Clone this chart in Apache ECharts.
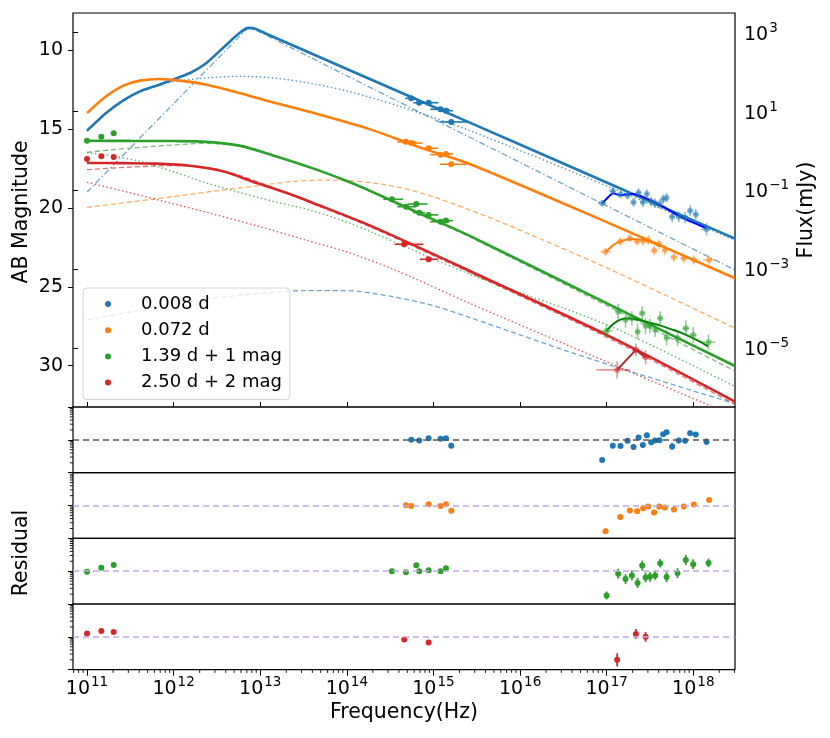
<!DOCTYPE html>
<html>
<head>
<meta charset="utf-8">
<script src="https://cdn.jsdelivr.net/npm/echarts@6/dist/echarts.min.js"></script>
<style>
  html, body { margin: 0; background: #fff; }
  #main { width: 830px; height: 738px; }
</style>
</head>
<body>
<div id="main"></div>
<script>
// axis ranges (log10 frequency, AB mag)
const X_MIN = 10.838, X_MAX = 18.483
const MAG_TOP = 7.656, MAG_BOTTOM = 32.62
const xDecades = [11, 12, 13, 14, 15, 16, 17, 18]
const magTicks = [10, 15, 20, 25, 30]
const fluxDecades = [-5, -3, -1, 1, 3]
const legendNames = ['0.008 d', '0.072 d', '1.39 d + 1 mag', '2.50 d + 2 mag']

// model curves [log10 nu, mag]
const blueTotal = [[11.0,15.11],[11.22,13.99],[11.42,13.19],[11.61,12.62],[11.8,12.26],[11.99,11.88],[12.19,11.46],[12.38,10.82],[12.57,9.87],[12.76,8.92],[12.87,8.6],[12.94,8.66],[13.05,8.92],[14.0,11.2],[15.42,14.6],[17.04,18.49],[18.483,21.95]]
const blueDotted = [[11.0,15.15],[11.22,14.02],[11.42,13.22],[11.61,12.66],[11.8,12.3],[12.0,12.0],[12.38,11.77],[12.76,11.67],[13.15,11.77],[13.6,12.13],[14.0,12.6],[14.6,13.55],[15.42,15.11],[17.04,18.7],[18.483,22.05]]
const blueDashDot = [[11.0,19.0],[11.5,16.2],[12.0,13.4],[12.5,10.6],[12.75,9.2],[12.86,8.65],[12.95,8.75],[14.0,11.63],[15.42,15.53],[16.69,19.02],[18.483,23.94]]
const blueDashed = [[11.0,27.1],[11.5,26.6],[12.0,26.1],[12.5,25.7],[13.0,25.42],[13.5,25.25],[14.0,25.25],[14.5,25.6],[15.0,26.2],[15.42,26.95],[16.0,28.05],[16.5,29.0],[17.0,29.9],[17.5,30.75],[18.0,31.6],[18.483,32.4]]
const orangeTotal = [[11.0,13.99],[11.22,12.93],[11.42,12.26],[11.61,11.94],[11.84,11.84],[12.07,11.94],[12.38,12.2],[12.76,12.72],[13.15,13.32],[13.61,13.98],[14.27,15.03],[14.9,16.28],[15.42,17.22],[17.04,21.0],[18.483,24.46]]
const orangeDashed = [[11.0,19.97],[11.5,19.63],[12.0,19.28],[12.5,18.92],[13.0,18.58],[13.4,18.32],[13.8,18.24],[14.2,18.36],[14.6,18.7],[15.0,19.3],[15.42,20.14],[15.8,20.95],[17.04,23.9],[18.483,27.63]]
const greenTotal = [[11.0,15.75],[11.5,15.76],[12.0,15.77],[12.38,15.82],[12.76,16.06],[13.15,16.68],[13.61,17.5],[14.0,18.3],[14.27,18.93],[14.9,20.5],[15.42,21.78],[17.04,26.15],[18.483,30.02]]
const greenDashed = [[11.0,16.48],[11.5,16.22],[12.0,16.02],[12.38,15.92],[12.76,16.1],[13.15,16.7],[13.61,17.52],[14.0,18.33],[14.27,18.97],[14.9,20.56],[15.42,21.85],[17.04,26.3],[18.483,30.34]]
const greenDotted = [[11.0,16.5],[11.3,16.72],[11.61,17.05],[12.0,17.72],[12.38,18.43],[12.76,19.02],[13.15,19.59],[13.61,20.2],[14.0,20.9],[14.27,21.5],[15.42,24.2],[17.04,27.5],[18.483,31.33]]
const redTotal = [[11.0,17.16],[11.4,17.17],[11.8,17.2],[12.19,17.33],[12.57,17.69],[12.96,18.43],[13.3,19.05],[13.61,19.69],[14.27,21.13],[15.42,24.0],[17.04,28.16],[18.483,32.28]]
const redDashed = [[11.0,17.58],[11.5,17.42],[12.0,17.32],[12.4,17.45],[12.76,17.95],[13.15,18.72],[13.61,19.75],[14.27,21.2],[15.42,24.1],[17.04,28.3],[18.483,32.45]]
const redDotted = [[11.0,18.38],[11.5,19.05],[12.0,19.75],[12.38,20.28],[13.0,21.2],[13.5,22.0],[14.0,22.8],[14.54,23.9],[15.42,26.05],[17.04,29.85],[18.483,33.2]]

// X-ray band fits
const blueXModel = [[16.953,19.71],[17.076,19.08],[17.153,19.19],[17.307,19.12],[17.461,19.4],[17.653,19.93],[17.845,20.56],[18.154,21.3]]
const orangeXModel = [[16.99,22.8],[17.08,22.35],[17.153,22.14],[17.269,21.99],[17.4,22.02],[17.5,22.15],[17.615,22.44]]
const greenXModel = [[17.0,27.8],[17.08,27.35],[17.153,27.1],[17.25,27.02],[17.384,27.12],[17.5,27.28],[17.615,27.45],[17.75,27.7],[17.884,27.97],[18.05,28.4],[18.173,28.78]]
const redXModel = [[17.122,30.27],[17.338,29.0],[17.45,29.47]]

// observations [log10 nu, mag, dx-, dx+, dmag]
const blueOpt = [[14.744,13.06,0.07,0.05,0.03],[14.836,13.34,0.07,0.07,0.03],[14.945,13.34,0.08,0.11,0.03],[15.083,13.76,0.12,0.1,0.03],[15.145,13.85,0.09,0.08,0.03],[15.206,14.56,0.13,0.18,0.03]]
const orangeOpt = [[14.683,15.82,0.1,0.12,0.03],[14.744,15.9,0.1,0.13,0.03],[14.945,16.23,0.08,0.11,0.03],[15.083,16.63,0.12,0.1,0.03],[15.145,16.59,0.09,0.08,0.03],[15.206,17.24,0.13,0.18,0.03]]
const greenOpt = [[14.521,19.46,0.1,0.13,0.03],[14.683,19.93,0.1,0.12,0.03],[14.802,19.76,0.1,0.13,0.03],[14.836,20.31,0.07,0.07,0.03],[14.945,20.45,0.08,0.11,0.03],[15.083,20.88,0.12,0.1,0.03],[15.145,20.81,0.09,0.08,0.03]]
const redOpt = [[14.663,22.31,0.11,0.22,0.03],[14.945,23.26,0.1,0.11,0.03]]
const greenRadio = [[11.0,15.75],[11.165,15.49],[11.308,15.28]]
const redRadio = [[11.0,16.9],[11.165,16.74],[11.308,16.78]]

const blueX = [[16.949,19.71,0.05,0.05,0.2],[17.072,18.95,0.03,0.03,0.25],[17.161,19.15,0.03,0.03,0.25],[17.242,19.22,0.03,0.03,0.25],[17.311,19.65,0.03,0.03,0.3],[17.369,19.04,0.03,0.03,0.3],[17.419,19.65,0.03,0.03,0.3],[17.465,19.12,0.02,0.02,0.3],[17.515,19.6,0.02,0.02,0.3],[17.561,19.71,0.02,0.02,0.3],[17.612,19.76,0.02,0.02,0.3],[17.653,19.46,0.02,0.02,0.3],[17.693,19.36,0.02,0.02,0.3],[17.757,20.56,0.03,0.03,0.35],[17.834,20.56,0.03,0.03,0.35],[17.907,20.62,0.03,0.03,0.35],[17.965,20.18,0.03,0.03,0.35],[18.03,20.42,0.03,0.03,0.35],[18.154,21.36,0.06,0.06,0.4]]
const orangeX = [[16.988,22.78,0.06,0.06,0.25],[17.157,22.14,0.04,0.04,0.25],[17.269,21.93,0.03,0.03,0.25],[17.353,22.14,0.03,0.03,0.25],[17.422,22.1,0.03,0.03,0.3],[17.48,22.05,0.03,0.03,0.3],[17.549,22.71,0.03,0.03,0.3],[17.607,22.3,0.03,0.03,0.3],[17.673,22.67,0.03,0.03,0.3],[17.777,23.13,0.04,0.04,0.3],[17.892,23.2,0.04,0.04,0.3],[18.008,23.3,0.04,0.04,0.3],[18.184,23.3,0.07,0.07,0.3]]
const greenX = [[17.0,27.8,0.07,0.07,0.4],[17.134,26.58,0.03,0.03,0.5],[17.219,27.1,0.03,0.03,0.5],[17.292,27.0,0.03,0.03,0.45],[17.358,27.85,0.03,0.03,0.5],[17.411,26.68,0.03,0.03,0.45],[17.45,27.49,0.02,0.02,0.5],[17.5,27.49,0.02,0.02,0.45],[17.561,27.74,0.02,0.02,0.45],[17.619,27.0,0.03,0.03,0.45],[17.693,28.23,0.03,0.03,0.5],[17.819,28.27,0.04,0.04,0.5],[17.915,27.63,0.04,0.04,0.5],[18.0,28.06,0.04,0.04,0.5],[18.177,28.52,0.08,0.08,0.5]]
const redX = [[17.122,30.27,0.24,0.15,0.55],[17.338,29.0,0.04,0.04,0.4],[17.45,29.47,0.04,0.04,0.45]]

// residuals [log10 nu, residual, err]
const resBlue = [[14.744,0,0],[14.836,-0.02,0],[14.945,0.05,0],[15.083,0.03,0],[15.145,0.05,0],[15.206,-0.18,0],[16.949,-0.61,0.06],[17.072,-0.18,0.06],[17.161,-0.19,0.06],[17.242,-0.03,0.06],[17.311,-0.22,0.07],[17.369,0.07,0.07],[17.419,-0.16,0.07],[17.465,0.14,0.07],[17.515,-0.07,0.07],[17.561,-0.02,0.07],[17.612,-0.01,0.07],[17.653,0.17,0.07],[17.693,0.23,0.07],[17.757,-0.2,0.1],[17.834,-0.02,0.08],[17.907,-0.03,0.08],[17.965,0.2,0.08],[18.03,0.16,0.08],[18.154,-0.06,0.1]]
const resOrange = [[14.683,0.01,0],[14.744,-0.01,0],[14.945,0.04,0],[15.083,-0.01,0],[15.145,0.04,0],[15.206,-0.16,0],[16.988,-0.78,0.08],[17.157,-0.35,0.08],[17.269,-0.15,0.08],[17.353,-0.17,0.08],[17.422,-0.08,0.08],[17.48,-0.03,0.08],[17.549,-0.21,0.08],[17.607,-0.03,0.08],[17.673,-0.06,0.08],[17.777,-0.12,0.08],[17.892,-0.03,0.08],[18.008,0.03,0.08],[18.184,0.17,0.08]]
const resGreen = [[11.0,-0.02,0],[11.165,0.1,0],[11.308,0.19,0],[14.521,0,0],[14.683,-0.03,0],[14.802,0.18,0],[14.836,0,0],[14.945,0.03,0],[15.083,0,0],[15.145,0.09,0],[17.0,-0.74,0.12],[17.134,-0.08,0.15],[17.219,-0.24,0.15],[17.292,-0.13,0.15],[17.358,-0.36,0.15],[17.411,0.17,0.15],[17.45,-0.19,0.15],[17.5,-0.17,0.15],[17.561,-0.13,0.13],[17.619,0.24,0.13],[17.693,-0.18,0.15],[17.819,-0.06,0.15],[17.915,0.34,0.15],[18.0,0.21,0.15],[18.177,0.25,0.13]]
const resRed = [[11.0,0.1,0],[11.165,0.18,0],[11.308,0.15,0],[14.663,-0.08,0],[14.945,-0.17,0],[17.122,-0.7,0.2],[17.338,0.09,0.15],[17.45,0,0.15]]

const FONT = 'DejaVu Sans'
const C = ['#1f77b4', '#ff7f0e', '#2ca02c', '#d62728']
const DASHED = [5, 3], DOTTED = [1.5, 2.5], DASHDOT = [6, 2.5, 1.5, 2.5]

const chart = echarts.init(document.getElementById('main'))

const resTops = [407, 472.7, 538.3, 604]
const RES_H = 65.7

const supLabel = v => {
    const e = v < 0 ? '\u2212' + (-v) : String(v)
    return '{b|10}{s|' + e + '}'
}
const supRich = {
    b: { fontSize: 19, fontFamily: FONT, color: '#000', verticalAlign: 'bottom', lineHeight: 23 },
    s: { fontSize: 13.5, fontFamily: FONT, color: '#000', verticalAlign: 'bottom', lineHeight: 23, padding: [0, 0, 9, 1] }
}

const line = (data, color, width, type, opacity, smooth) => ({
    type: 'line', xAxisIndex: 0, yAxisIndex: 0, data,
    symbol: 'none', smooth: smooth === undefined ? 0.3 : smooth, silent: true,
    lineStyle: { color, width, type, opacity }, z: 2
})

const errRender = (color, opacity, width) => (params, api) => {
    const x = api.value(0), y = api.value(1)
    const dxl = api.value(2), dxh = api.value(3), dy = api.value(4)
    const kids = []
    const style = { stroke: color, lineWidth: width, opacity }
    if (dxl > 0 || dxh > 0) {
        const a = api.coord([x - dxl, y]), b = api.coord([x + dxh, y])
        kids.push({ type: 'line', shape: { x1: a[0], y1: a[1], x2: b[0], y2: b[1] }, style })
    }
    if (dy > 0) {
        const a = api.coord([x, y - dy]), b = api.coord([x, y + dy])
        kids.push({ type: 'line', shape: { x1: a[0], y1: a[1], x2: b[0], y2: b[1] }, style })
    }
    return { type: 'group', children: kids }
}

const errBars = (data, color, opacity, xi, width) => ({
    type: 'custom', xAxisIndex: xi, yAxisIndex: xi, data, silent: true, z: 3,
    renderItem: errRender(color, opacity, width || 1.6)
})

const points = (name, data, color, opacity, xi, size) => ({
    type: 'scatter', name, xAxisIndex: xi, yAxisIndex: xi, silent: true, z: 4,
    data: data.map(d => [d[0], d[1]]), symbolSize: size || 6,
    itemStyle: { color, opacity }
})

// minor tick positions for the log axes
const minorX = []
for (let n = 10; n <= 18; n++) {
    for (let k = 2; k <= 9; k++) {
        const v = n + Math.log10(k)
        if (v > X_MIN && v < X_MAX) minorX.push([v, -1])
    }
}
const minorY = []
for (let n = -1; n <= 0; n++) {
    for (let k = 2; k <= 9; k++) minorY.push([X_MIN, n + Math.log10(k)])
}

const tickSeries = (data, gi, horizontal) => ({
    type: 'custom', xAxisIndex: gi, yAxisIndex: gi, data, silent: true, clip: false, z: 5,
    renderItem: (params, api) => {
        const p = api.coord([api.value(0), api.value(1)])
        const shape = horizontal
            ? { x1: p[0], y1: p[1], x2: p[0], y2: p[1] + 3.2 }
            : { x1: p[0] - 3.2, y1: p[1], x2: p[0], y2: p[1] }
        return { type: 'line', shape, style: { stroke: '#000', lineWidth: 0.9 } }
    }
})

const grids = [{ left: 73, top: 13, width: 662, height: 394, show: true, borderColor: '#000', borderWidth: 1.2 }]
resTops.forEach(t => grids.push({ left: 73, top: t, width: 662, height: RES_H, show: true, borderColor: '#000', borderWidth: 1.2 }))
grids.push({ left: 73, top: 50, width: 662, height: 315.7 })      // 5: magnitude labels
grids.push({ left: 73, top: 32.64, width: 662, height: 315.7 })   // 6: flux labels
grids.push({ left: 87, top: 13, width: 606.3, height: 394 })      // 7: decade ticks under main panel
grids.push({ left: 87, top: 604, width: 606.3, height: RES_H })   // 8: frequency labels

const hidden = { axisLine: { show: false }, axisTick: { show: false }, axisLabel: { show: false }, splitLine: { show: false } }
const xAxes = [], yAxes = []
for (let i = 0; i < 5; i++) {
    xAxes.push(Object.assign({ type: 'value', gridIndex: i, min: X_MIN, max: X_MAX }, hidden))
}
yAxes.push(Object.assign({ type: 'value', gridIndex: 0, min: MAG_TOP, max: MAG_BOTTOM, inverse: true }, hidden))
for (let i = 1; i < 5; i++) {
    yAxes.push({
        type: 'value', gridIndex: i, min: -1, max: 1, interval: 1,
        axisLine: { show: false }, axisLabel: { show: false }, splitLine: { show: false },
        axisTick: { length: 5, lineStyle: { color: '#000', width: 1 } }
    })
}
xAxes.push(Object.assign({ type: 'value', gridIndex: 5, min: 0, max: 1 }, hidden))
yAxes.push({
    type: 'value', gridIndex: 5, min: magTicks[0], max: magTicks[magTicks.length - 1], interval: 5, inverse: true,
    axisLine: { show: false }, splitLine: { show: false },
    axisTick: { length: 5, lineStyle: { color: '#000', width: 1 } },
    axisLabel: { fontSize: 19, fontFamily: FONT, color: '#000', margin: 10 }
})
xAxes.push(Object.assign({ type: 'value', gridIndex: 6, min: 0, max: 1 }, hidden))
yAxes.push({
    type: 'value', gridIndex: 6, position: 'right', min: fluxDecades[0], max: fluxDecades[fluxDecades.length - 1], interval: 2,
    axisLine: { show: false }, splitLine: { show: false },
    axisTick: { length: 5, lineStyle: { color: '#000', width: 1 } },
    axisLabel: { margin: 9, formatter: supLabel, rich: supRich }
})
xAxes.push({
    type: 'value', gridIndex: 7, min: xDecades[0], max: xDecades[xDecades.length - 1], interval: 1,
    axisLine: { show: false }, axisLabel: { show: false }, splitLine: { show: false },
    axisTick: { inside: true, length: 5, lineStyle: { color: '#000', width: 1 } }
})
yAxes.push(Object.assign({ type: 'value', gridIndex: 7, min: 0, max: 1 }, hidden))
xAxes.push({
    type: 'value', gridIndex: 8, min: xDecades[0], max: xDecades[xDecades.length - 1], interval: 1,
    axisLine: { show: false }, splitLine: { show: false },
    axisTick: { length: 6, lineStyle: { color: '#000', width: 1 } },
    axisLabel: { margin: 6, formatter: supLabel, rich: supRich }
})
yAxes.push(Object.assign({ type: 'value', gridIndex: 8, min: 0, max: 1 }, hidden))

const series = [
    line(blueDashed, C[0], 1.3, DASHED, 0.65),
    line(blueDashDot, C[0], 1.3, DASHDOT, 0.65, 0.15),
    line(blueDotted, C[0], 1.4, DOTTED, 0.75),
    line(orangeDashed, C[1], 1.3, DASHED, 0.65),
    line(greenDashed, C[2], 1.3, DASHED, 0.65),
    line(greenDotted, C[2], 1.4, DOTTED, 0.75),
    line(redDashed, C[3], 1.3, DASHED, 0.65),
    line(redDotted, C[3], 1.4, DOTTED, 0.75),
    line(blueTotal, C[0], 2.6, 'solid', 1, 0.2),
    line(orangeTotal, C[1], 2.6, 'solid', 1),
    line(greenTotal, C[2], 2.6, 'solid', 1),
    line(redTotal, C[3], 2.6, 'solid', 1),
    line(blueXModel, '#0000ff', 2, 'solid', 1, 0.15),
    line(orangeXModel, '#ff7f0e', 2, 'solid', 1, 0.3),
    line(greenXModel, '#008000', 2, 'solid', 1, 0.3),
    line(redXModel, '#a52a2a', 2, 'solid', 1, 0),

    errBars(blueOpt, C[0], 1, 0), points(legendNames[0], blueOpt, C[0], 1, 0),
    errBars(orangeOpt, C[1], 1, 0), points(legendNames[1], orangeOpt, C[1], 1, 0),
    errBars(greenOpt, C[2], 1, 0), points(legendNames[2], greenOpt, C[2], 1, 0),
    points(legendNames[2], greenRadio, C[2], 1, 0),
    errBars(redOpt, C[3], 1, 0), points(legendNames[3], redOpt, C[3], 1, 0),
    points(legendNames[3], redRadio, C[3], 1, 0),

    errBars(blueX, C[0], 0.5, 0), points('xb', blueX, C[0], 0.5, 0),
    errBars(orangeX, C[1], 0.5, 0), points('xo', orangeX, C[1], 0.5, 0),
    errBars(greenX, C[2], 0.5, 0), points('xg', greenX, C[2], 0.5, 0),
    errBars(redX, C[3], 0.5, 0), points('xr', redX, C[3], 0.5, 0)
]

const residuals = [resBlue, resOrange, resGreen, resRed]
residuals.forEach((res, i) => {
    const gi = i + 1
    series.push({
        type: 'line', xAxisIndex: gi, yAxisIndex: gi, data: [], silent: true,
        markLine: {
            silent: true, symbol: 'none', label: { show: false },
            lineStyle: { color: i === 0 ? '#555555' : '#c2a8df', type: [6, 4], width: 1.6 },
            data: [{ yAxis: 0 }]
        }
    })
    series.push(errBars(res.map(d => [d[0], d[1], 0, 0, d[2]]), C[i], 1, gi, 1.8))
    series.push(points('r' + i, res, C[i], 1, gi, 6))
    series.push(tickSeries(minorY, gi, false))
})
series.push(tickSeries(minorX, 4, true))

const option = {
    animation: false,
    backgroundColor: '#fff',
    grid: grids,
    xAxis: xAxes,
    yAxis: yAxes,
    legend: {
        data: legendNames, left: 83, top: 288, orient: 'vertical',
        icon: 'circle', itemWidth: 40, itemHeight: 6, itemGap: 4.2,
        padding: [5, 8, 6, 22], selectedMode: false,
        backgroundColor: 'rgba(255,255,255,0.8)', borderColor: '#d3d3d3', borderWidth: 1, borderRadius: 4,
        textStyle: { fontSize: 18, fontFamily: FONT, color: '#000', lineHeight: 22, padding: [0, 0, 0, 8] }
    },
    graphic: [
        { type: 'text', x: 22, y: 212, rotation: Math.PI / 2, style: { text: 'AB Magnitude', font: '20.5px "DejaVu Sans"', fill: '#000', align: 'center', verticalAlign: 'middle' } },
        { type: 'text', x: 807, y: 210, rotation: Math.PI / 2, style: { text: 'Flux(mJy)', font: '20.5px "DejaVu Sans"', fill: '#000', align: 'center', verticalAlign: 'middle' } },
        { type: 'text', x: 22, y: 553, rotation: Math.PI / 2, style: { text: 'Residual', font: '20.5px "DejaVu Sans"', fill: '#000', align: 'center', verticalAlign: 'middle' } },
        { type: 'text', x: 404, y: 713, style: { text: 'Frequency(Hz)', font: '20.5px "DejaVu Sans"', fill: '#000', align: 'center', verticalAlign: 'middle' } }
    ],
    series
}

chart.setOption(option)
</script>
</body>
</html>
